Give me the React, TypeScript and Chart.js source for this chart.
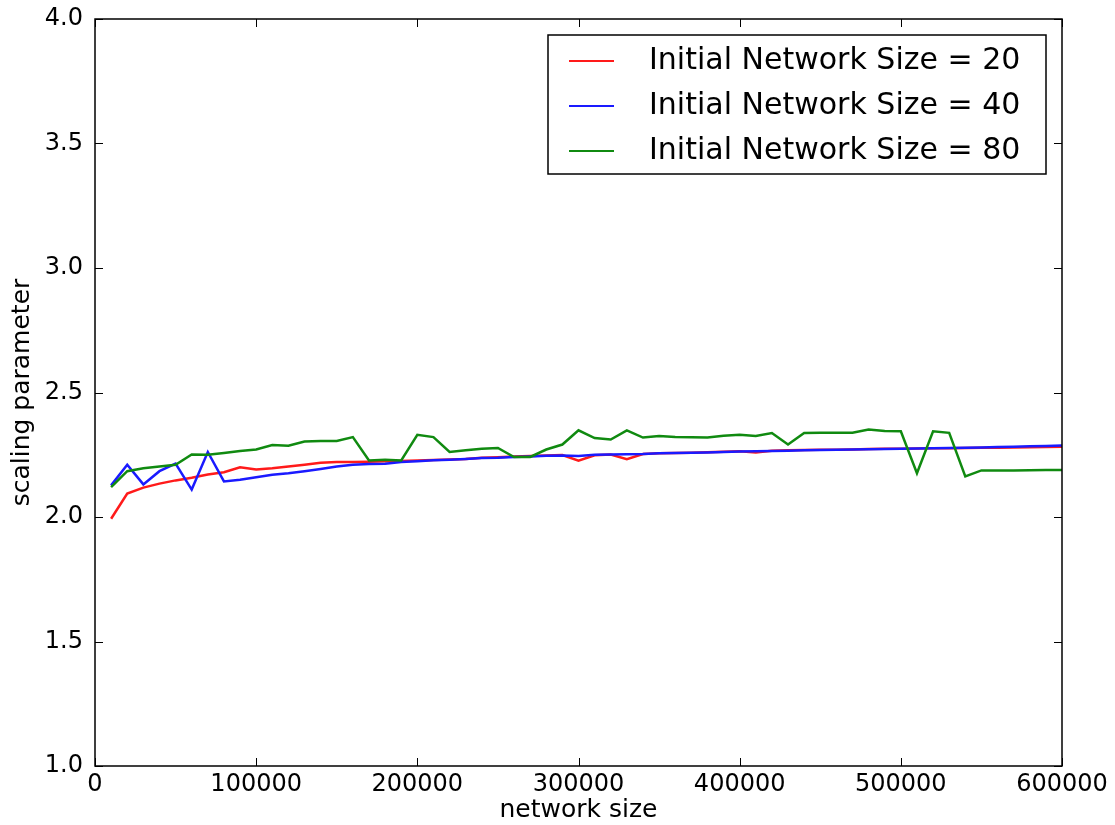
import React, { useEffect, useRef } from "react";
import { Chart, registerables } from "chart.js";

Chart.register(...registerables);

// Network sizes at which the scaling parameter was estimated
const networkSizes = [
  10000, 20000, 30000, 40000, 50000, 60000, 70000, 80000, 90000, 100000,
  110000, 120000, 130000, 140000, 150000, 160000, 170000, 180000, 190000, 200000,
  210000, 220000, 230000, 240000, 250000, 260000, 270000, 280000, 290000, 300000,
  310000, 320000, 330000, 340000, 350000, 360000, 370000, 380000, 390000, 400000,
  410000, 420000, 430000, 440000, 450000, 460000, 470000, 480000, 490000, 500000,
  510000, 520000, 530000, 540000, 550000, 560000, 570000, 580000, 590000, 600000,
];

const initial20 = [
  1.993, 2.094, 2.118, 2.134, 2.147, 2.158, 2.171, 2.180, 2.200, 2.191,
  2.196, 2.203, 2.210, 2.218, 2.221, 2.221, 2.222, 2.224, 2.225, 2.227,
  2.229, 2.231, 2.233, 2.238, 2.240, 2.243, 2.245, 2.247, 2.249, 2.226,
  2.248, 2.251, 2.232, 2.253, 2.256, 2.257, 2.258, 2.260, 2.262, 2.264,
  2.259, 2.266, 2.268, 2.269, 2.270, 2.270, 2.271, 2.273, 2.274, 2.274,
  2.275, 2.276, 2.276, 2.277, 2.278, 2.278, 2.279, 2.280, 2.281, 2.282,
];

const initial40 = [
  2.127, 2.210, 2.131, 2.184, 2.214, 2.110, 2.261, 2.143, 2.150, 2.160,
  2.170, 2.176, 2.184, 2.193, 2.203, 2.210, 2.213, 2.214, 2.221, 2.224,
  2.228, 2.230, 2.233, 2.237, 2.238, 2.241, 2.243, 2.246, 2.247, 2.245,
  2.250, 2.251, 2.252, 2.253, 2.256, 2.257, 2.258, 2.259, 2.261, 2.263,
  2.264, 2.265, 2.266, 2.268, 2.269, 2.270, 2.271, 2.272, 2.273, 2.274,
  2.275, 2.276, 2.277, 2.278, 2.279, 2.281, 2.282, 2.284, 2.285, 2.287,
];

const initial80 = [
  2.120, 2.184, 2.196, 2.203, 2.210, 2.251, 2.250, 2.257, 2.265, 2.271,
  2.289, 2.286, 2.303, 2.305, 2.305, 2.321, 2.227, 2.230, 2.227, 2.330,
  2.321, 2.261, 2.268, 2.274, 2.277, 2.241, 2.241, 2.271, 2.291, 2.348,
  2.317, 2.311, 2.348, 2.319, 2.325, 2.321, 2.320, 2.319, 2.326, 2.330,
  2.325, 2.337, 2.291, 2.337, 2.338, 2.338, 2.338, 2.351, 2.345, 2.344,
  2.176, 2.344, 2.338, 2.163, 2.187, 2.187, 2.187, 2.188, 2.189, 2.189,
];

const seriesLabels = [
  "Initial Network Size = 20",
  "Initial Network Size = 40",
  "Initial Network Size = 80",
];
const seriesColors = ["#ff1a1a", "#1a1aff", "#108a10"];

const xTicks = [0, 100000, 200000, 300000, 400000, 500000, 600000];
const yTicks = [1.0, 1.5, 2.0, 2.5, 3.0, 3.5, 4.0];

const FONT = "'DejaVu Sans', sans-serif";

// Axes box, inward tick marks and the boxed legend in the upper right
const framePlugin = {
  id: "frameAndLegend",
  afterDraw(chart: any) {
    const { ctx, chartArea: a, scales } = chart;
    const xs = scales.x;
    const ys = scales.y;
    ctx.save();
    ctx.strokeStyle = "#000";
    ctx.lineWidth = 1;
    const tl = 8;
    ctx.beginPath();
    for (const v of xTicks) {
      const px = Math.round(xs.getPixelForValue(v)) + 0.5;
      ctx.moveTo(px, a.bottom);
      ctx.lineTo(px, a.bottom - tl);
      ctx.moveTo(px, a.top);
      ctx.lineTo(px, a.top + tl);
    }
    for (const v of yTicks) {
      const py = Math.round(ys.getPixelForValue(v)) + 0.5;
      ctx.moveTo(a.left, py);
      ctx.lineTo(a.left + tl, py);
      ctx.moveTo(a.right, py);
      ctx.lineTo(a.right - tl, py);
    }
    ctx.stroke();

    ctx.lineWidth = 1.5;
    ctx.strokeRect(a.left, a.top, a.right - a.left, a.bottom - a.top);

    // legend
    const boxW = 498;
    const boxH = 139;
    const bx = a.right - 16 - boxW;
    const by = a.top + 16;
    ctx.fillStyle = "#fff";
    ctx.fillRect(bx, by, boxW, boxH);
    ctx.lineWidth = 1.5;
    ctx.strokeStyle = "#000";
    ctx.strokeRect(bx, by, boxW, boxH);
    ctx.font = `30px ${FONT}`;
    ctx.textBaseline = "middle";
    ctx.textAlign = "left";
    chart.data.datasets.forEach((ds: any, i: number) => {
      const rowY = by + 26 + i * 45;
      ctx.strokeStyle = ds.borderColor;
      ctx.lineWidth = 2;
      ctx.beginPath();
      ctx.moveTo(bx + 21, rowY);
      ctx.lineTo(bx + 66, rowY);
      ctx.stroke();
      ctx.fillStyle = "#000";
      ctx.fillText(ds.label, bx + 101, rowY);
    });
    ctx.restore();
  },
};

export default function App() {
  const canvasRef = useRef<HTMLCanvasElement | null>(null);

  useEffect(() => {
    if (!canvasRef.current) return;
    const seriesValues = [initial20, initial40, initial80];
    const chart = new Chart(canvasRef.current, {
      type: "line",
      data: {
        datasets: seriesValues.map((vals, i) => ({
          label: seriesLabels[i],
          data: networkSizes.map((x, j) => ({ x, y: vals[j] })),
          borderColor: seriesColors[i],
          backgroundColor: seriesColors[i],
          borderWidth: 2.5,
          pointRadius: 0,
          tension: 0,
          order: 3 - i,
        })),
      },
      options: {
        responsive: false,
        animation: false,
        layout: { padding: { top: 19, right: 53, bottom: 0, left: 0 } },
        plugins: {
          legend: { display: false },
          tooltip: { enabled: false },
        },
        scales: {
          x: {
            type: "linear",
            min: 0,
            max: 600000,
            afterBuildTicks: (s: any) => {
              s.ticks = xTicks.map((v) => ({ value: v }));
            },
            afterFit: (s: any) => {
              s.height = 59;
            },
            ticks: {
              color: "#000",
              font: { family: FONT, size: 24 },
              padding: 4,
              maxRotation: 0,
              autoSkip: false,
              callback: (v: any) => String(v),
            },
            grid: { display: false, drawTicks: false },
            border: { display: false },
            title: {
              display: true,
              text: "network size",
              color: "#000",
              font: { family: FONT, size: 25 },
              padding: { top: 0, bottom: 0 },
            },
          },
          y: {
            type: "linear",
            min: 1,
            max: 4,
            afterBuildTicks: (s: any) => {
              s.ticks = yTicks.map((v) => ({ value: v }));
            },
            afterFit: (s: any) => {
              s.width = 95;
              s.paddingTop = 0;
              s.paddingBottom = 0;
            },
            ticks: {
              color: "#000",
              font: { family: FONT, size: 24 },
              padding: 12,
              autoSkip: false,
              callback: (v: any) => Number(v).toFixed(1),
            },
            grid: { display: false, drawTicks: false },
            border: { display: false },
            title: {
              display: true,
              text: "scaling parameter",
              color: "#000",
              font: { family: FONT, size: 25 },
              padding: { top: 7, bottom: 0 },
            },
          },
        },
      },
      plugins: [framePlugin],
    });
    return () => chart.destroy();
  }, []);

  return (
    <div style={{ position: "absolute", left: 0, top: 0, width: 1115, height: 825, background: "#fff" }}>
      <canvas ref={canvasRef} width={1115} height={825} />
    </div>
  );
}
